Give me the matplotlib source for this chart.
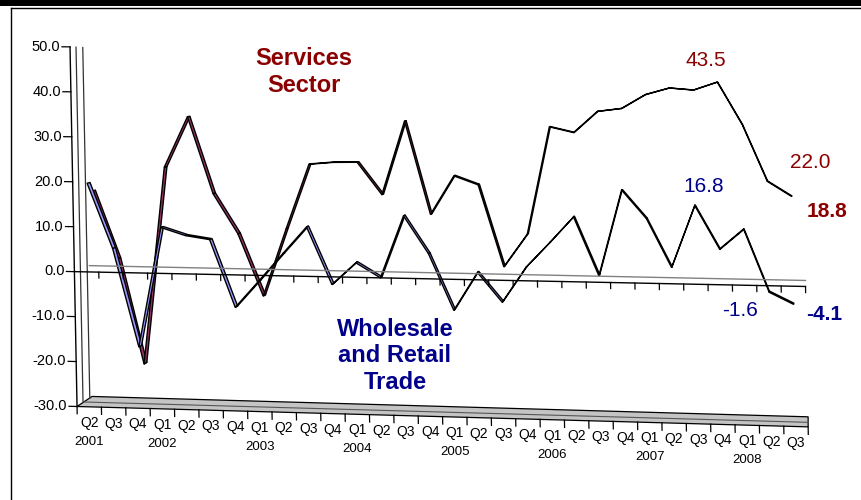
import numpy as np
import matplotlib
matplotlib.use('Agg')
import matplotlib.pyplot as plt
import matplotlib.transforms as mtransforms
from matplotlib.patches import Polygon, Rectangle
from matplotlib.lines import Line2D

plt.rcParams['font.family'] = ['Liberation Sans', 'DejaVu Sans']

# quarterly growth, 2001Q2 .. 2008Q3
quarters = ['Q2', 'Q3', 'Q4'] + ['Q1', 'Q2', 'Q3', 'Q4'] * 6 + ['Q1', 'Q2', 'Q3']
year_labels = ['2001', '2002', '2003', '2004', '2005', '2006', '2007', '2008']
year_pos = [0, 3, 7, 11, 15, 19, 23, 27]

services = [17.6, 2.4, -21.2, 23.2, 34.6, 17.4, 8.5, -5.3, 9.8, 24.3,
            24.8, 24.9, 17.8, 34.2, 13.6, 22.2, 20.3, 2.3, 9.6, 33.3,
            32.1, 36.8, 37.5, 40.6, 42.1, 41.7, 43.5, 34.3, 22.0, 18.8]
wholesale = [19.6, 5.1, -16.7, 10.0, 8.3, 7.5, -7.4, -1.4, 4.7, 10.7,
             -1.9, 3.0, -0.2, 13.5, 5.3, -7.0, 1.4, -5.0, 2.7, 8.2,
             13.9, 1.2, 19.9, 13.8, 3.3, 16.8, 7.4, 11.8, -1.6, -4.1]

y_ticks = [-30, -20, -10, 0, 10, 20, 30, 40, 50]

W, H = 861, 500
RED = '#8b0000'
NAVY = '#00008b'


class Perspective(mtransforms.Transform):
    """Fake 3D look: pushes a flat layout into depth and slants it."""
    input_dims = 2
    output_dims = 2
    is_separable = False
    has_inverse = False

    def __init__(self, z=0.0):
        super().__init__()
        self.z = z

    def transform_non_affine(self, values):
        xy = np.asarray(values, dtype=float).reshape(-1, 2)
        X = xy[:, 0]
        Y = H - xy[:, 1]          # work top-down like pixel rows
        d = self.z
        t = (X - 70) / 731
        Xn = X + 15 * d * (1 - t) + 0.0195 * (Y - 46)
        Yn = (Y - d * (6 + 0.03 * (Y - 272))
              + (X - 88) * (0.0203 + 5.6e-5 * (Y - 272)))
        return np.column_stack([Xn, H - Yn])


fig = plt.figure(figsize=(W / 100, H / 100), dpi=100)
ax = fig.add_axes([0, 0, 1, 1])
ax.set_xlim(-70 / 24.37, (W - 70) / 24.37)
ax.set_ylim(-228 / 4.5, 272 / 4.5)
ax.set_axis_off()


def persp(d, dx=0, dy=0):
    tr = ax.transData + Perspective(d)
    if dx or dy:
        tr = tr + mtransforms.Affine2D().translate(dx, dy)
    return tr


def project(x, y, d):
    return persp(d).transform(np.column_stack([x, y]))


def face(x, y, d1, d2, **kw):
    # quad strip between two depths, built in display space
    p1 = project(x, y, d1)
    p2 = project(x, y, d2)
    verts = np.vstack([p1, p2[::-1]])
    ax.add_patch(Polygon(verts, closed=True, transform=mtransforms.IdentityTransform(),
                         clip_on=False, **kw))


n = len(quarters)

# floor slab at -30
face([0, n], [-30, -30], 0.0, 1.0, facecolor='#c4c4c4', edgecolor='black', lw=0.9)
fl = project([0, n], [-30, -30], 0.45)
ax.add_line(Line2D(fl[:, 0], fl[:, 1], color='#555555', lw=0.8,
                   transform=mtransforms.IdentityTransform()))

# side wall edges
for d in [0.4, 0.85]:
    ax.plot([0, 0], [-30, 50], color='#333333', lw=0.9, transform=persp(d), clip_on=False)

# back wall gridline at zero
ax.plot([0, n], [0, 0], color='#808080', lw=1.0, transform=persp(1.0), clip_on=False)

# value axis
tr0 = persp(0.0)
ax.plot([0, 0], [-30, 50], color='black', lw=1.0, transform=tr0, clip_on=False)
for v in y_ticks:
    ax.plot([-8 / 24.37, 0], [v, v], color='black', lw=0.9, transform=tr0, clip_on=False)
    ax.text(-10 / 24.37, v, f'{v:.1f}', ha='right', va='center', fontsize=10.5,
            transform=tr0)

# category axis crossing at zero
ax.plot([0, n], [0, 0], color='black', lw=1.0, transform=tr0, clip_on=False)
for k in range(1, n + 1):
    ax.plot([k, k], [0, -1.3], color='black', lw=0.9, transform=tr0, clip_on=False)

# ticks and labels under the floor
for k in range(n + 1):
    ax.plot([k, k], [-30, -31.6], color='black', lw=0.9, transform=tr0, clip_on=False)
for k, q in enumerate(quarters):
    ax.text(k + 0.5, -30, q, ha='center', va='center', fontsize=10,
            transform=persp(0.0, 0, -16))
for k, yl in zip(year_pos, year_labels):
    ax.text(k + 0.5, -30, yl, ha='center', va='center', fontsize=9.5,
            transform=persp(0.0, 0, -35))


def ribbon(values, d1, d2, color):
    xs = np.arange(len(values)) + 0.5
    for k in range(len(values) - 1):
        face(xs[k:k + 2], values[k:k + 2], d1, d2,
             facecolor=color, edgecolor='black', lw=1.0)


ribbon(services, 0.5, 0.7, '#993366')
ribbon(wholesale, 0.15, 0.35, '#9999ff')

# series names
fig.text(304 / W, 1 - 72 / H, 'Services\nSector', ha='center', va='center',
         fontsize=17, fontweight='bold', color=RED, linespacing=1.22)
fig.text(395 / W, 1 - 356 / H, 'Wholesale\nand Retail\nTrade', ha='center',
         va='center', fontsize=17, fontweight='bold', color=NAVY, linespacing=1.22)

# point labels
fig.text(706 / W, 1 - 60 / H, f'{services[26]:.1f}', ha='center', va='center',
         fontsize=15, color=RED)
fig.text(810 / W, 1 - 162 / H, f'{services[28]:.1f}', ha='center', va='center',
         fontsize=15, color=RED)
fig.text(827 / W, 1 - 212 / H, f'{services[29]:.1f}', ha='center', va='center',
         fontsize=15, fontweight='bold', color=RED)
fig.text(704 / W, 1 - 186 / H, f'{wholesale[25]:.1f}', ha='center', va='center',
         fontsize=15, color=NAVY)
fig.text(740 / W, 1 - 310 / H, f'{wholesale[28]:.1f}', ha='center', va='center',
         fontsize=15, color=NAVY)
fig.text(824 / W, 1 - 314 / H, f'{wholesale[29]:.1f}', ha='center', va='center',
         fontsize=15, fontweight='bold', color=NAVY)

# page rule and chart frame
fig.add_artist(Rectangle((0, 1 - 6 / H), 1, 5.5 / H, transform=fig.transFigure,
                         facecolor='black', edgecolor='none'))
fig.add_artist(Line2D([10.5 / W, 10.5 / W], [0, 1 - 7.5 / H], color='black', lw=1,
                      transform=fig.transFigure))
fig.add_artist(Line2D([10.5 / W, 1], [1 - 7.5 / H, 1 - 7.5 / H], color='black', lw=1,
                      transform=fig.transFigure))

fig.savefig('out.png', dpi=100)
